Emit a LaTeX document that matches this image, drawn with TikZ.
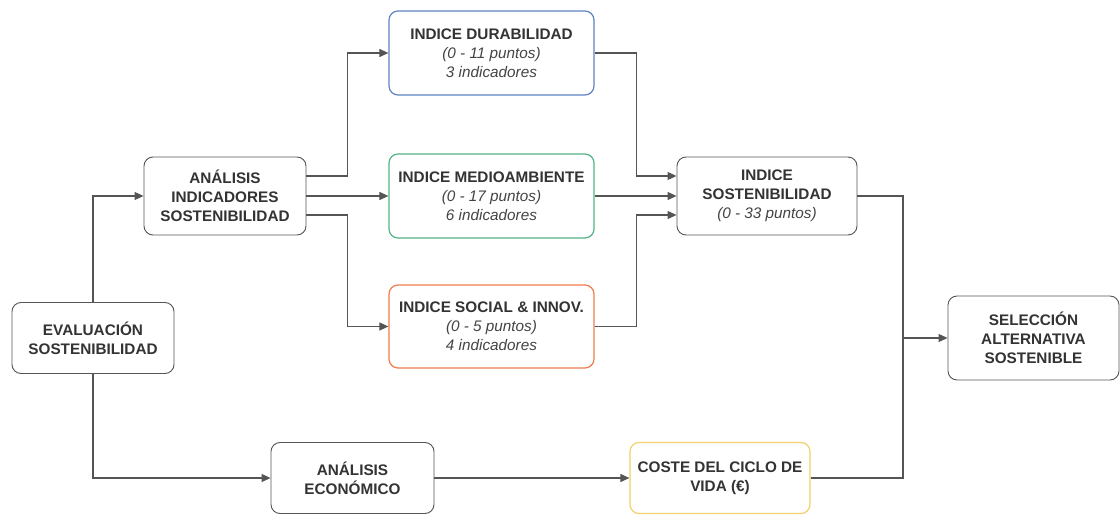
\documentclass[tikz,border=0pt]{standalone}
\usepackage{fontspec}
\setmainfont{Liberation Sans}
\usetikzlibrary{arrows.meta}
\definecolor{txtgray}{HTML}{333333}
\definecolor{subgray}{HTML}{444444}
\definecolor{linegray}{HTML}{555555}
\definecolor{durblue}{HTML}{5F84C0}
\definecolor{medgreen}{HTML}{52B585}
\definecolor{socorange}{HTML}{F27B4C}
\definecolor{costyellow}{HTML}{F2D06B}
\newcommand{\sub}[1]{\\{\normalfont\itshape\color{subgray}#1}}

\begin{document}
\begin{tikzpicture}[x=1pt,y=-1pt,
  box/.style={draw=linegray,line width=0.9pt,rounded corners=9pt,fill=white,
    align=center,text=txtgray,font=\fontsize{15.3}{19}\selectfont\bfseries,
    inner sep=0pt},
  tint/.style={box,draw=#1,line width=1.2pt},
  conn/.style={draw=linegray,line width=1.1pt},
  arr/.style={conn,-{Triangle[length=9pt,width=8pt]}}]
\useasboundingbox (0,0) rectangle (1120,516);
% boxes
\node[box,minimum width=162,minimum height=71] (eval) at (93,338) {EVALUACIÓN\\SOSTENIBILIDAD};
\node[box,minimum width=162,minimum height=78] (ana) at (225,196) {ANÁLISIS\\INDICADORES\\SOSTENIBILIDAD};
\node[tint=durblue,minimum width=205,minimum height=84] (dur) at (491.5,53) {INDICE DURABILIDAD\sub{(0 - 11 puntos)}\sub{3 indicadores}};
\node[tint=medgreen,minimum width=205,minimum height=84] (med) at (491.5,196) {INDICE MEDIOAMBIENTE\sub{(0 - 17 puntos)}\sub{6 indicadores}};
\node[tint=socorange,minimum width=205,minimum height=83] (soc) at (491.5,326.5) {INDICE SOCIAL \& INNOV.\sub{(0 - 5 puntos)}\sub{4 indicadores}};
\node[box,minimum width=180,minimum height=78] (sost) at (767,196) {INDICE\\SOSTENIBILIDAD\sub{(0 - 33 puntos)}};
\node[box,minimum width=171,minimum height=84] (sel) at (1033.5,338) {SELECCIÓN\\ALTERNATIVA\\SOSTENIBLE};
\node[box,minimum width=163,minimum height=71] (eco) at (352.5,478) {ANÁLISIS\\ECONÓMICO};
\node[tint=costyellow,minimum width=180,minimum height=71] (cost) at (720,478) {COSTE DEL CICLO DE\\VIDA (€)};
\coordinate (join) at (903,338);
% connectors
\draw[arr] (eval.north) |- (ana.west);
\draw[arr] (eval.south) |- (eco.west);
\draw[arr] ([yshift=20pt]ana.east) -- ++(41,0) |- (dur.west);
\draw[arr] (ana.east) -- (med.west);
\draw[arr] ([yshift=-19pt]ana.east) -- ++(41,0) |- (soc.west);
\draw[arr] (dur.east) -- ++(42,0) |- ([yshift=20pt]sost.west);
\draw[arr] (med.east) -- (sost.west);
\draw[arr] (soc.east) -- ++(42,0) |- ([yshift=-19pt]sost.west);
\draw[arr] (eco.east) -- (cost.west);
\draw[conn] (sost.east) -| (join);
\draw[conn] (cost.east) -| (join);
\draw[arr] (join) -- (sel.west);
\end{tikzpicture}
\end{document}
